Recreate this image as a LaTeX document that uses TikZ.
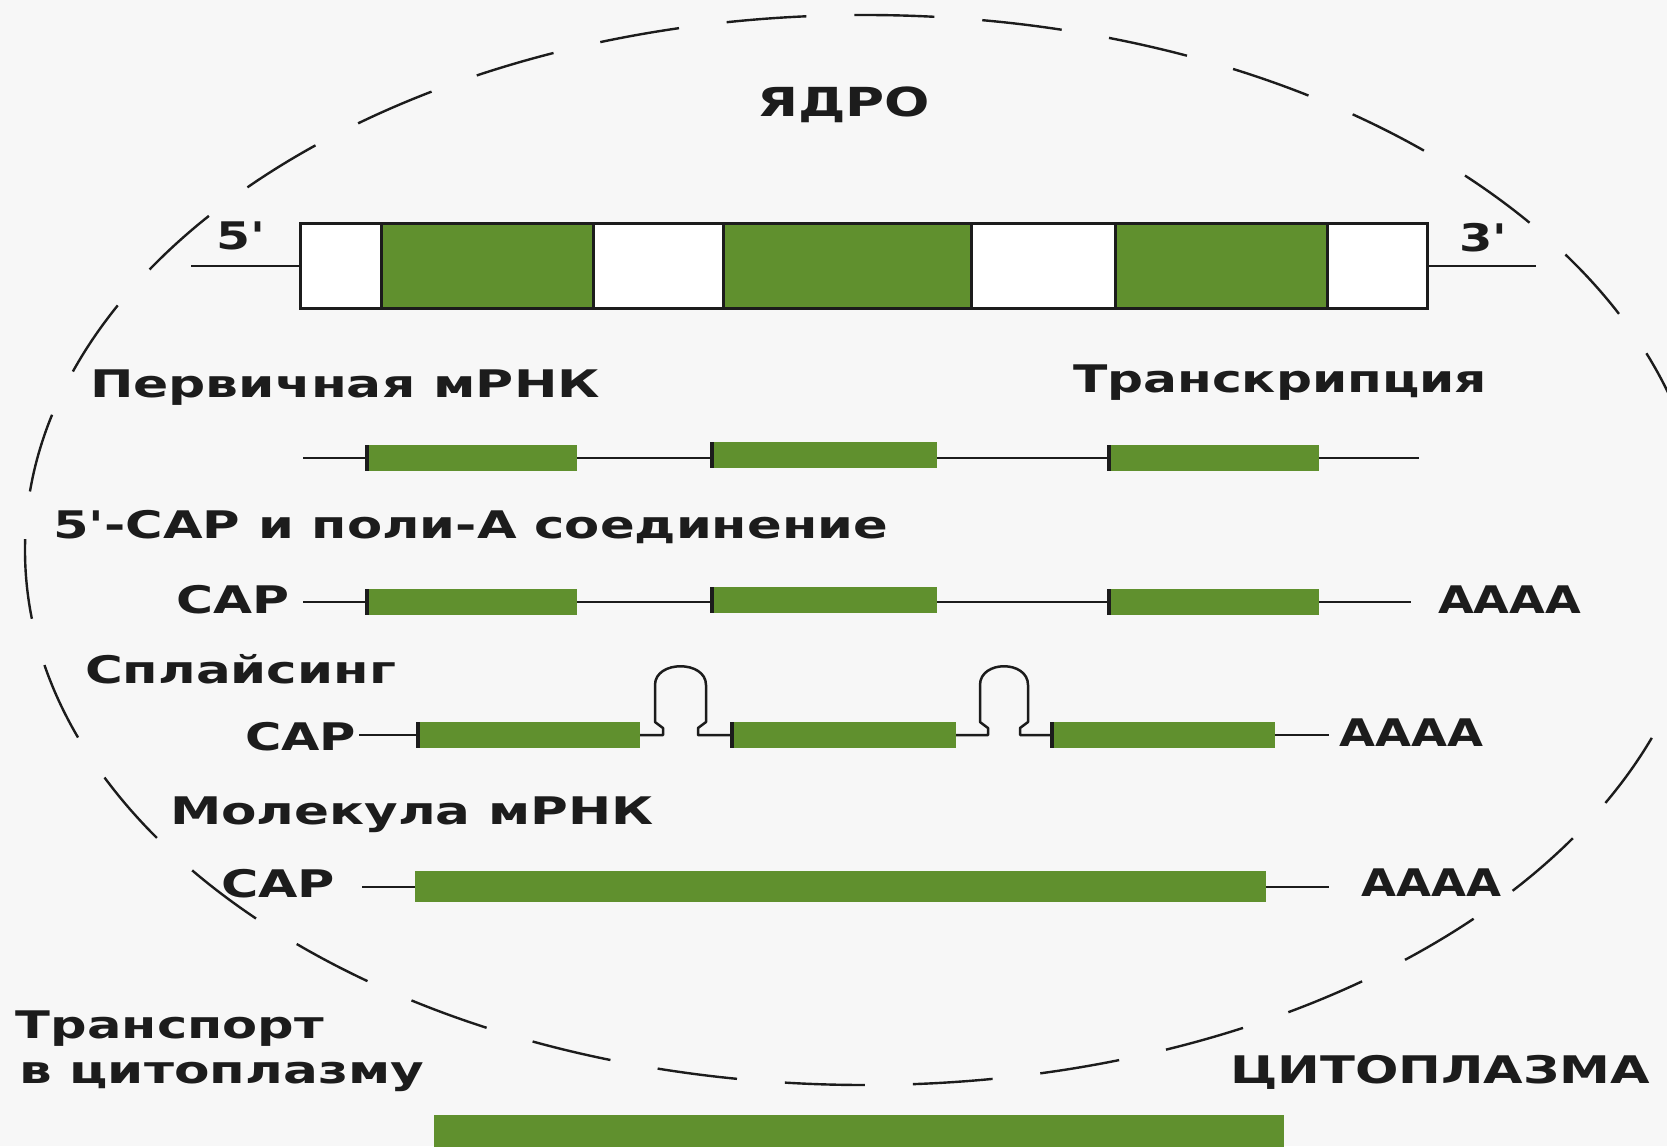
\documentclass[tikz,border=0pt]{standalone}
\usepackage{fontspec}
\usepackage{graphicx}
\newfontfamily\lbf{DejaVu Sans}[Ligatures=TeXOff]
\newcommand\tw[2]{\resizebox{#1pt}{\height}{#2}}
\definecolor{grn}{RGB}{96,144,46}
\definecolor{blk}{RGB}{28,28,28}
\definecolor{bgc}{RGB}{247,247,247}
\tikzset{
  lbl/.style={inner sep=0pt, outer sep=0pt, anchor=base west, text=blk,
    font=\lbf\bfseries\fontsize{38}{44}\selectfont},
  big/.style={lbl, font=\lbf\bfseries\fontsize{40}{46}\selectfont},
  exon/.style={rectangle, fill=grn, draw=none, inner sep=0pt, outer sep=0pt, minimum height=26pt},
  seg/.style={rectangle, draw=blk, line width=3pt, inner sep=0pt, outer sep=0pt, minimum height=85pt},
  ln/.style={draw=blk, line width=2.5pt},
  tick/.style={draw=blk, line width=4pt},
  nucl/.style={draw=blk, line width=2.4pt, dash pattern=on 80pt off 48pt}
}
\begin{document}
\begin{tikzpicture}[x=1pt,y=-1pt]
\fill[bgc] (0,0) rectangle (1667,1146);
\path[use as bounding box] (0,0) rectangle (1667,1146);
\clip (0,0) rectangle (1667,1146);

% nucleus boundary
\draw[nucl] (865,550) ellipse [x radius=840pt, y radius=535pt];

% title
\node[big] (yadro) at (757,116) {\tw{173}{ЯДРО}};

% gene
\node[seg, fill=white, minimum width=81pt]  (gs1) at (340.5,266) {};
\node[seg, fill=grn,   minimum width=212pt] (gs2) at (487,266) {};
\node[seg, fill=white, minimum width=130pt] (gs3) at (658,266) {};
\node[seg, fill=grn,   minimum width=248pt] (gs4) at (847,266) {};
\node[seg, fill=white, minimum width=144pt] (gs5) at (1043,266) {};
\node[seg, fill=grn,   minimum width=212pt] (gs6) at (1221,266) {};
\node[seg, fill=white, minimum width=100pt] (gs7) at (1377,266) {};
\coordinate (g5) at (191,266);
\coordinate (g3) at (1536,266);
\draw[ln] (g5) -- (gs1.west);
\draw[ln] (gs7.east) -- (g3);
\node[lbl] (p5) at (216,249) {\tw{49}{5'}};
\node[lbl] (p3) at (1459,251) {\tw{48}{3'}};

\node[lbl] (t1) at (90,397) {\tw{510}{Первичная мРНК}};
\node[lbl] (t2) at (1073,392) {\tw{414}{Транскрипция}};

% row 1
\node[exon, minimum width=210pt] (e11) at (472,458) {};
\node[exon, minimum width=225pt] (e12) at (824.5,455) {};
\node[exon, minimum width=210pt] (e13) at (1214,458) {};
\coordinate (r1s) at (303,458);
\coordinate (r1e) at (1419,458);
\draw[ln] (r1s) -- (e11.west);
\draw[ln] (e11.east) -- (e11.east -| e12.west);
\draw[ln] (e12.east |- e13.west) -- (e13.west);
\draw[ln] (e13.east) -- (r1e);
\foreach \e in {e11,e12,e13} \draw[tick] (\e.north west) -- (\e.south west);

\node[lbl] (t3) at (53,538) {\tw{835}{5'-CAP и поли-А соединение}};

% row 2
\node[lbl] (cap2) at (176,613) {\tw{113}{CAP}};
\node[exon, minimum width=210pt] (e21) at (472,602) {};
\node[exon, minimum width=225pt] (e22) at (824.5,600) {};
\node[exon, minimum width=210pt] (e23) at (1214,602) {};
\coordinate (r2s) at (303,602);
\coordinate (r2e) at (1411,602);
\draw[ln] (r2s) -- (e21.west);
\draw[ln] (e21.east) -- (e21.east -| e22.west);
\draw[ln] (e22.east |- e23.west) -- (e23.west);
\draw[ln] (e23.east) -- (r2e);
\foreach \e in {e21,e22,e23} \draw[tick] (\e.north west) -- (\e.south west);
\node[lbl] (a2) at (1438,613) {\tw{143}{AAAA}};

\node[lbl] (t4) at (85,683) {\tw{311}{Сплайсинг}};

% row 3
\node[lbl] (cap3) at (245,750) {\tw{111}{CAP}};
\node[exon, minimum width=222pt] (e31) at (529,735) {};
\node[exon, minimum width=224pt] (e32) at (844,735) {};
\node[exon, minimum width=223pt] (e33) at (1163.5,735) {};
\coordinate (r3s) at (359,735);
\coordinate (r3e) at (1329,735);
\draw[ln] (r3s) -- (e31.west);
\draw[ln, line join=round] (e31.east) -- (663,735) -- (663,728) -- (655,722) -- (655,685)
  .. controls (655,660) and (706,660) .. (706,685) -- (706,722) -- (698,728) -- (698,735) -- (e32.west);
\draw[ln, line join=round] (e32.east) -- (988,735) -- (988,728) -- (980,722) -- (980,685)
  .. controls (980,660) and (1028,660) .. (1028,685) -- (1028,722) -- (1020,728) -- (1020,735) -- (e33.west);
\draw[ln] (e33.east) -- (r3e);
\foreach \e in {e31,e32,e33} \draw[tick] (\e.north west) -- (\e.south west);
\node[lbl] (a3) at (1339,746) {\tw{144}{AAAA}};

\node[lbl] (t5) at (170,824) {\tw{484}{Молекула мРНК}};

% row 4
\node[lbl] (cap4) at (221,897) {\tw{114}{CAP}};
\node[exon, minimum width=851pt, minimum height=31pt] (e41) at (840.5,886) {};
\coordinate (r4s) at (362,887);
\coordinate (r4e) at (1329,887);
\draw[ln] (r4s) -- (e41.west |- r4s);
\draw[ln] (e41.east |- r4e) -- (r4e);
\node[lbl] (a4) at (1361,896) {\tw{140}{AAAA}};

% transport
\node[lbl] (t6) at (16,1038) {\tw{308}{Транспорт}};
\node[lbl] (t7) at (19,1083) {\tw{405}{в цитоплазму}};
\node[lbl] (t8) at (1230,1083) {\tw{420}{ЦИТОПЛАЗМА}};

\node[exon, minimum width=850pt, minimum height=60pt, anchor=north west] (e51) at (434,1115) {};
\end{tikzpicture}
\end{document}
